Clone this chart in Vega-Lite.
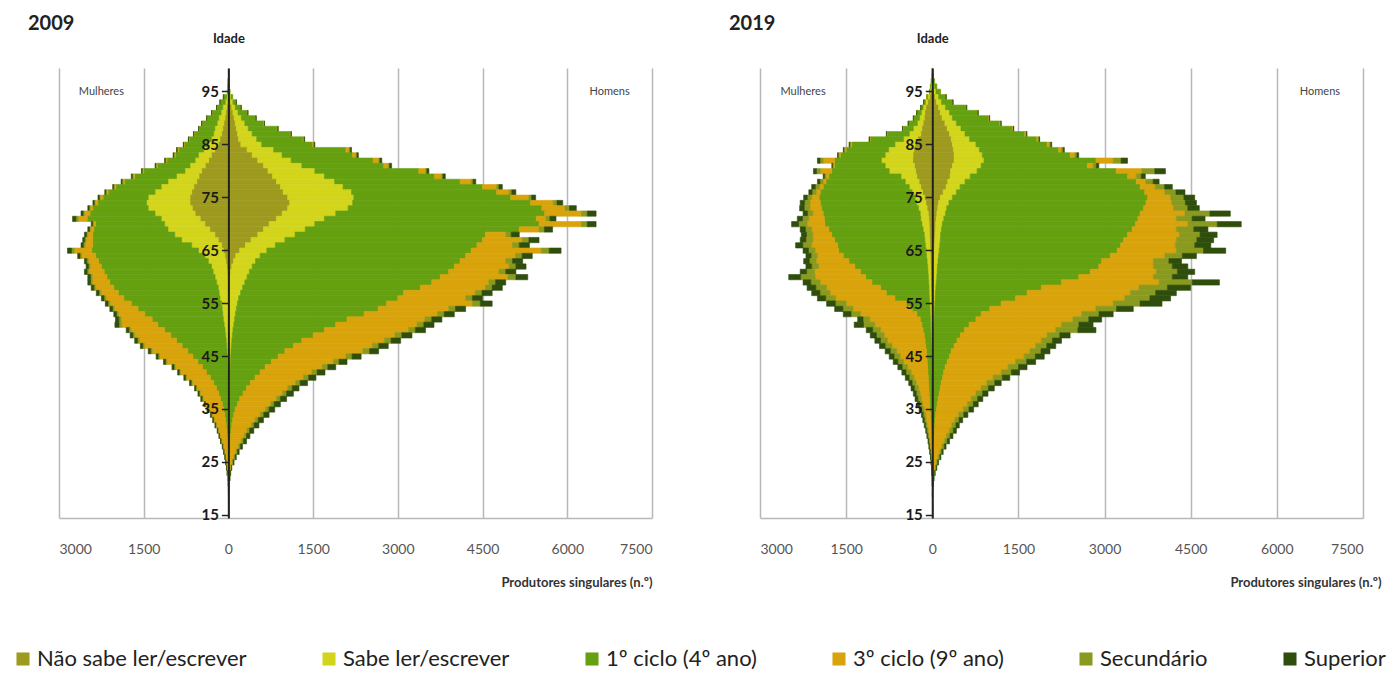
{
"$schema":"https://vega.github.io/schema/vega-lite/v6.json",
"background":"white",
"padding":{"left":12,"top":14,"right":5,"bottom":5},
"bounds":"flush",
"spacing":108,
"config":{"font":"Lato","view":{"stroke":null}},
"datasets":{
"d09":[
{"g":"H","a":97,"1":3,"2":2,"3":3,"4":0,"5":0,"6":0},
{"g":"H","a":96,"1":5,"2":5,"3":5,"4":0,"5":0,"6":0},
{"g":"H","a":95,"1":10,"2":10,"3":10,"4":0,"5":0,"6":0},
{"g":"H","a":94,"1":25,"2":20,"3":32,"4":0,"5":0,"6":0},
{"g":"H","a":93,"1":40,"2":40,"3":56,"4":2,"5":1,"6":1},
{"g":"H","a":92,"1":60,"2":60,"3":100,"4":3,"5":1,"6":1},
{"g":"H","a":91,"1":80,"2":90,"3":165,"4":6,"5":2,"6":2},
{"g":"H","a":90,"1":100,"2":130,"3":250,"4":6,"5":2,"6":2},
{"g":"H","a":89,"1":120,"2":170,"3":335,"4":9,"5":3,"6":3},
{"g":"H","a":88,"1":140,"2":210,"3":510,"4":12,"5":4,"6":4},
{"g":"H","a":87,"1":160,"2":260,"3":670,"4":15,"5":4,"6":6},
{"g":"H","a":86,"1":180,"2":320,"3":820,"4":15,"5":6,"6":9},
{"g":"H","a":85,"1":220,"2":370,"3":900,"4":20,"5":8,"6":12},
{"g":"H","a":84,"1":330,"2":470,"3":1280,"4":60,"5":16,"6":24},
{"g":"H","a":83,"1":420,"2":530,"3":1250,"4":60,"5":16,"6":24},
{"g":"H","a":82,"1":520,"2":590,"3":1450,"4":100,"5":22,"6":34},
{"g":"H","a":81,"1":620,"2":680,"3":1450,"4":80,"5":24,"6":36},
{"g":"H","a":80,"1":700,"2":830,"3":1840,"4":120,"5":24,"6":36},
{"g":"H","a":79,"1":780,"2":920,"3":1950,"4":120,"5":28,"6":42},
{"g":"H","a":78,"1":850,"2":1030,"3":2220,"4":200,"5":32,"6":48},
{"g":"H","a":77,"1":920,"2":1110,"3":2470,"4":250,"5":40,"6":60},
{"g":"H","a":76,"1":970,"2":1210,"3":2570,"4":220,"5":48,"6":72},
{"g":"H","a":75,"1":1050,"2":1170,"3":2780,"4":320,"5":48,"6":72},
{"g":"H","a":74,"1":1085,"2":1115,"3":3150,"4":400,"5":68,"6":102},
{"g":"H","a":73,"1":1050,"2":1070,"3":3430,"4":410,"5":80,"6":120},
{"g":"H","a":72,"1":950,"2":950,"3":3700,"4":650,"5":104,"6":156},
{"g":"H","a":71,"1":850,"2":850,"3":3750,"4":170,"5":72,"6":108},
{"g":"H","a":70,"1":720,"2":810,"3":3970,"4":750,"5":104,"6":156},
{"g":"H","a":69,"1":620,"2":740,"3":3790,"4":350,"5":96,"6":144},
{"g":"H","a":68,"1":520,"2":660,"3":3370,"4":360,"5":96,"6":144},
{"g":"H","a":67,"1":400,"2":600,"3":3500,"4":700,"5":120,"6":180},
{"g":"H","a":66,"1":300,"2":530,"3":3570,"4":630,"5":120,"6":180},
{"g":"H","a":65,"1":200,"2":480,"3":3620,"4":1240,"5":140,"6":210},
{"g":"H","a":64,"1":130,"2":430,"3":3640,"4":880,"5":120,"6":180},
{"g":"H","a":63,"1":90,"2":390,"3":3620,"4":810,"5":120,"6":180},
{"g":"H","a":62,"1":60,"2":360,"3":3580,"4":970,"5":120,"6":180},
{"g":"H","a":61,"1":40,"2":330,"3":3530,"4":890,"5":120,"6":180},
{"g":"H","a":60,"1":30,"2":300,"3":3420,"4":1200,"5":140,"6":210},
{"g":"H","a":59,"1":25,"2":265,"3":3310,"4":1010,"5":120,"6":180},
{"g":"H","a":58,"1":20,"2":230,"3":3150,"4":1150,"5":120,"6":180},
{"g":"H","a":57,"1":18,"2":197,"3":2885,"4":1270,"5":120,"6":180},
{"g":"H","a":56,"1":15,"2":165,"3":2820,"4":1200,"5":120,"6":180},
{"g":"H","a":55,"1":14,"2":146,"3":2640,"4":1520,"5":140,"6":210},
{"g":"H","a":54,"1":12,"2":128,"3":2510,"4":1250,"5":120,"6":180},
{"g":"H","a":53,"1":10,"2":115,"3":2275,"4":1300,"5":120,"6":180},
{"g":"H","a":52,"1":10,"2":100,"3":1990,"4":1380,"5":120,"6":180},
{"g":"H","a":51,"1":8,"2":87,"3":1805,"4":1440,"5":120,"6":180},
{"g":"H","a":50,"1":8,"2":72,"3":1620,"4":1490,"5":120,"6":180},
{"g":"H","a":49,"1":7,"2":63,"3":1430,"4":1450,"5":120,"6":180},
{"g":"H","a":48,"1":6,"2":54,"3":1240,"4":1460,"5":120,"6":170},
{"g":"H","a":47,"1":6,"2":46,"3":1098,"4":1400,"5":110,"6":170},
{"g":"H","a":46,"1":5,"2":40,"3":955,"4":1380,"5":120,"6":160},
{"g":"H","a":45,"1":5,"2":35,"3":840,"4":1200,"5":110,"6":160},
{"g":"H","a":44,"1":4,"2":31,"3":725,"4":1100,"5":100,"6":140},
{"g":"H","a":43,"1":4,"2":26,"3":620,"4":1010,"5":100,"6":140},
{"g":"H","a":42,"1":4,"2":24,"3":532,"4":920,"5":90,"6":140},
{"g":"H","a":41,"1":3,"2":22,"3":445,"4":860,"5":90,"6":130},
{"g":"H","a":40,"1":3,"2":19,"3":368,"4":800,"5":80,"6":130},
{"g":"H","a":39,"1":3,"2":16,"3":301,"4":730,"5":80,"6":120},
{"g":"H","a":38,"1":3,"2":13,"3":244,"4":700,"5":70,"6":120},
{"g":"H","a":37,"1":2,"2":12,"3":186,"4":650,"5":70,"6":110},
{"g":"H","a":36,"1":2,"2":10,"3":148,"4":590,"5":60,"6":110},
{"g":"H","a":35,"1":2,"2":8,"3":110,"4":540,"5":60,"6":100},
{"g":"H","a":34,"1":2,"2":7,"3":86,"4":470,"5":60,"6":95},
{"g":"H","a":33,"1":2,"2":6,"3":67,"4":400,"5":55,"6":90},
{"g":"H","a":32,"1":1,"2":6,"3":53,"4":345,"5":50,"6":85},
{"g":"H","a":31,"1":1,"2":5,"3":44,"4":280,"5":45,"6":75},
{"g":"H","a":30,"1":1,"2":4,"3":35,"4":240,"5":40,"6":60},
{"g":"H","a":29,"1":1,"2":3,"3":26,"4":200,"5":35,"6":55},
{"g":"H","a":28,"1":1,"2":2,"3":22,"4":155,"5":30,"6":40},
{"g":"H","a":27,"1":1,"2":2,"3":17,"4":115,"5":25,"6":30},
{"g":"H","a":26,"1":0,"2":2,"3":13,"4":85,"5":20,"6":20},
{"g":"H","a":25,"1":0,"2":2,"3":8,"4":60,"5":15,"6":15},
{"g":"H","a":24,"1":0,"2":1,"3":5,"4":40,"5":8,"6":6},
{"g":"H","a":23,"1":0,"2":1,"3":3,"4":28,"5":5,"6":3},
{"g":"H","a":22,"1":0,"2":1,"3":2,"4":18,"5":3,"6":1},
{"g":"H","a":21,"1":0,"2":0,"3":2,"4":11,"5":2,"6":0},
{"g":"H","a":20,"1":0,"2":0,"3":1,"4":6,"5":1,"6":0},
{"g":"H","a":19,"1":0,"2":0,"3":1,"4":4,"5":0,"6":0},
{"g":"H","a":18,"1":0,"2":0,"3":0,"4":3,"5":0,"6":0},
{"g":"H","a":17,"1":0,"2":0,"3":0,"4":1,"5":0,"6":0},
{"g":"M","a":97,"1":2,"2":2,"3":1,"4":0,"5":0,"6":0},
{"g":"M","a":96,"1":3,"2":3,"3":4,"4":0,"5":0,"6":0},
{"g":"M","a":95,"1":8,"2":7,"3":5,"4":0,"5":0,"6":0},
{"g":"M","a":94,"1":10,"2":20,"3":58,"4":1,"5":0,"6":1},
{"g":"M","a":93,"1":20,"2":35,"3":91,"4":2,"5":1,"6":1},
{"g":"M","a":92,"1":30,"2":70,"3":104,"4":3,"5":1,"6":2},
{"g":"M","a":91,"1":45,"2":85,"3":162,"4":4,"5":2,"6":2},
{"g":"M","a":90,"1":60,"2":110,"3":205,"4":5,"5":2,"6":3},
{"g":"M","a":89,"1":80,"2":120,"3":255,"4":10,"5":4,"6":6},
{"g":"M","a":88,"1":100,"2":140,"3":270,"4":10,"5":4,"6":6},
{"g":"M","a":87,"1":120,"2":140,"3":340,"4":10,"5":4,"6":6},
{"g":"M","a":86,"1":150,"2":150,"3":390,"4":10,"5":4,"6":6},
{"g":"M","a":85,"1":180,"2":175,"3":425,"4":10,"5":4,"6":6},
{"g":"M","a":84,"1":240,"2":200,"3":440,"4":20,"5":8,"6":12},
{"g":"M","a":83,"1":300,"2":230,"3":410,"4":20,"5":8,"6":12},
{"g":"M","a":82,"1":350,"2":240,"3":500,"4":20,"5":8,"6":12},
{"g":"M","a":81,"1":410,"2":270,"3":580,"4":20,"5":8,"6":12},
{"g":"M","a":80,"1":475,"2":295,"3":730,"4":20,"5":8,"6":12},
{"g":"M","a":79,"1":520,"2":400,"3":740,"4":30,"5":12,"6":18},
{"g":"M","a":78,"1":560,"2":510,"3":770,"4":30,"5":12,"6":18},
{"g":"M","a":77,"1":610,"2":580,"3":800,"4":30,"5":12,"6":18},
{"g":"M","a":76,"1":650,"2":650,"3":830,"4":30,"5":12,"6":18},
{"g":"M","a":75,"1":680,"2":740,"3":800,"4":50,"5":16,"6":24},
{"g":"M","a":74,"1":680,"2":770,"3":860,"4":50,"5":16,"6":24},
{"g":"M","a":73,"1":640,"2":780,"3":980,"4":50,"5":16,"6":24},
{"g":"M","a":72,"1":590,"2":710,"3":1150,"4":100,"5":24,"6":36},
{"g":"M","a":71,"1":500,"2":690,"3":1310,"4":160,"5":40,"6":60},
{"g":"M","a":70,"1":415,"2":715,"3":1220,"4":40,"5":16,"6":24},
{"g":"M","a":69,"1":330,"2":740,"3":1310,"4":60,"5":20,"6":30},
{"g":"M","a":68,"1":240,"2":710,"3":1450,"4":90,"5":24,"6":36},
{"g":"M","a":67,"1":180,"2":650,"3":1570,"4":120,"5":24,"6":36},
{"g":"M","a":66,"1":120,"2":530,"3":1750,"4":140,"5":28,"6":42},
{"g":"M","a":65,"1":90,"2":440,"3":1890,"4":310,"5":48,"6":72},
{"g":"M","a":64,"1":60,"2":355,"3":1935,"4":250,"5":28,"6":42},
{"g":"M","a":63,"1":45,"2":310,"3":1945,"4":180,"5":28,"6":42},
{"g":"M","a":62,"1":30,"2":270,"3":1950,"4":200,"5":28,"6":42},
{"g":"M","a":61,"1":22,"2":248,"3":1930,"4":270,"5":32,"6":48},
{"g":"M","a":60,"1":15,"2":222,"3":1913,"4":260,"5":32,"6":48},
{"g":"M","a":59,"1":12,"2":198,"3":1890,"4":310,"5":32,"6":48},
{"g":"M","a":58,"1":10,"2":170,"3":1850,"4":320,"5":32,"6":48},
{"g":"M","a":57,"1":9,"2":156,"3":1785,"4":310,"5":32,"6":48},
{"g":"M","a":56,"1":8,"2":142,"3":1700,"4":320,"5":32,"6":48},
{"g":"M","a":55,"1":7,"2":113,"3":1600,"4":380,"5":32,"6":48},
{"g":"M","a":54,"1":6,"2":104,"3":1490,"4":420,"5":32,"6":48},
{"g":"M","a":53,"1":5,"2":95,"3":1380,"4":470,"5":32,"6":48},
{"g":"M","a":52,"1":5,"2":85,"3":1260,"4":550,"5":40,"6":60},
{"g":"M","a":51,"1":4,"2":71,"3":1175,"4":640,"5":48,"6":72},
{"g":"M","a":50,"1":4,"2":56,"3":1070,"4":600,"5":32,"6":48},
{"g":"M","a":49,"1":3,"2":47,"3":970,"4":640,"5":32,"6":48},
{"g":"M","a":48,"1":3,"2":37,"3":880,"4":660,"5":32,"6":48},
{"g":"M","a":47,"1":3,"2":29,"3":788,"4":670,"5":28,"6":42},
{"g":"M","a":46,"1":2,"2":23,"3":695,"4":630,"5":28,"6":42},
{"g":"M","a":45,"1":2,"2":18,"3":610,"4":590,"5":24,"6":36},
{"g":"M","a":44,"1":2,"2":13,"3":525,"4":550,"5":24,"6":36},
{"g":"M","a":43,"1":1,"2":11,"3":448,"4":480,"5":24,"6":36},
{"g":"M","a":42,"1":1,"2":9,"3":380,"4":460,"5":20,"6":30},
{"g":"M","a":41,"1":1,"2":6,"3":313,"4":420,"5":20,"6":30},
{"g":"M","a":40,"1":1,"2":4,"3":255,"4":380,"5":20,"6":30},
{"g":"M","a":39,"1":1,"2":3,"3":206,"4":350,"5":16,"6":24},
{"g":"M","a":38,"1":1,"2":2,"3":167,"4":330,"5":16,"6":24},
{"g":"M","a":37,"1":1,"2":2,"3":137,"4":310,"5":16,"6":24},
{"g":"M","a":36,"1":0,"2":2,"3":108,"4":290,"5":12,"6":18},
{"g":"M","a":35,"1":0,"2":2,"3":83,"4":265,"5":12,"6":18},
{"g":"M","a":34,"1":0,"2":1,"3":64,"4":225,"5":12,"6":18},
{"g":"M","a":33,"1":0,"2":1,"3":49,"4":205,"5":10,"6":15},
{"g":"M","a":32,"1":0,"2":1,"3":39,"4":175,"5":10,"6":15},
{"g":"M","a":31,"1":0,"2":1,"3":29,"4":150,"5":8,"6":12},
{"g":"M","a":30,"1":0,"2":0,"3":22,"4":128,"5":8,"6":12},
{"g":"M","a":29,"1":0,"2":0,"3":16,"4":109,"5":6,"6":9},
{"g":"M","a":28,"1":0,"2":0,"3":12,"4":83,"5":6,"6":9},
{"g":"M","a":27,"1":0,"2":0,"3":8,"4":67,"5":4,"6":6},
{"g":"M","a":26,"1":0,"2":0,"3":5,"4":50,"5":4,"6":6},
{"g":"M","a":25,"1":0,"2":0,"3":3,"4":39,"5":4,"6":4},
{"g":"M","a":24,"1":0,"2":0,"3":2,"4":28,"5":3,"6":2},
{"g":"M","a":23,"1":0,"2":0,"3":1,"4":18,"5":2,"6":1},
{"g":"M","a":22,"1":0,"2":0,"3":1,"4":12,"5":1,"6":0},
{"g":"M","a":21,"1":0,"2":0,"3":0,"4":7,"5":1,"6":0},
{"g":"M","a":20,"1":0,"2":0,"3":0,"4":4,"5":0,"6":0},
{"g":"M","a":19,"1":0,"2":0,"3":0,"4":2,"5":0,"6":0}
],
"d19":[
{"g":"H","a":99,"1":3,"2":1,"3":1,"4":0,"5":0,"6":0},
{"g":"H","a":98,"1":6,"2":4,"3":5,"4":0,"5":0,"6":0},
{"g":"H","a":97,"1":12,"2":10,"3":18,"4":0,"5":0,"6":0},
{"g":"H","a":96,"1":20,"2":20,"3":40,"4":0,"5":0,"6":0},
{"g":"H","a":95,"1":30,"2":35,"3":73,"4":1,"5":1,"6":0},
{"g":"H","a":94,"1":50,"2":60,"3":126,"4":2,"5":1,"6":1},
{"g":"H","a":93,"1":70,"2":90,"3":194,"4":3,"5":2,"6":1},
{"g":"H","a":92,"1":110,"2":120,"3":360,"4":5,"5":3,"6":2},
{"g":"H","a":91,"1":140,"2":160,"3":485,"4":7,"5":4,"6":4},
{"g":"H","a":90,"1":170,"2":180,"3":630,"4":10,"5":5,"6":5},
{"g":"H","a":89,"1":220,"2":200,"3":755,"4":13,"5":7,"6":5},
{"g":"H","a":88,"1":260,"2":240,"3":890,"4":15,"5":8,"6":7},
{"g":"H","a":87,"1":300,"2":270,"3":1040,"4":20,"5":11,"6":9},
{"g":"H","a":86,"1":330,"2":320,"3":1170,"4":25,"5":14,"6":11},
{"g":"H","a":85,"1":350,"2":410,"3":1240,"4":40,"5":22,"6":18},
{"g":"H","a":84,"1":370,"2":450,"3":1380,"4":50,"5":28,"6":22},
{"g":"H","a":83,"1":380,"2":490,"3":1530,"4":80,"5":38,"6":32},
{"g":"H","a":82,"1":380,"2":520,"3":1950,"4":300,"5":138,"6":112},
{"g":"H","a":81,"1":350,"2":500,"3":1850,"4":100,"5":55,"6":45},
{"g":"H","a":80,"1":320,"2":460,"3":2420,"4":450,"5":225,"6":185},
{"g":"H","a":79,"1":310,"2":350,"3":2740,"4":150,"5":88,"6":72},
{"g":"H","a":78,"1":270,"2":300,"3":2980,"4":170,"5":126,"6":104},
{"g":"H","a":77,"1":240,"2":245,"3":3135,"4":260,"5":165,"6":135},
{"g":"H","a":76,"1":190,"2":230,"3":3280,"4":350,"5":193,"6":157},
{"g":"H","a":75,"1":140,"2":210,"3":3400,"4":400,"5":231,"6":189},
{"g":"H","a":74,"1":110,"2":180,"3":3430,"4":450,"5":237,"6":193},
{"g":"H","a":73,"1":95,"2":155,"3":3430,"4":520,"5":248,"6":202},
{"g":"H","a":72,"1":80,"2":150,"3":3390,"4":780,"5":435,"6":355},
{"g":"H","a":71,"1":70,"2":130,"3":3380,"4":670,"5":275,"6":225},
{"g":"H","a":70,"1":60,"2":115,"3":3365,"4":910,"5":512,"6":418},
{"g":"H","a":69,"1":55,"2":105,"3":3320,"4":770,"5":303,"6":247},
{"g":"H","a":68,"1":50,"2":95,"3":3255,"4":900,"5":363,"6":297},
{"g":"H","a":67,"1":45,"2":95,"3":3190,"4":920,"5":358,"6":292},
{"g":"H","a":66,"1":40,"2":90,"3":3150,"4":950,"5":341,"6":279},
{"g":"H","a":65,"1":35,"2":85,"3":3100,"4":1030,"5":473,"6":387},
{"g":"H","a":64,"1":30,"2":80,"3":2990,"4":950,"5":303,"6":247},
{"g":"H","a":63,"1":28,"2":72,"3":2850,"4":900,"5":270,"6":220},
{"g":"H","a":62,"1":25,"2":65,"3":2810,"4":950,"5":330,"6":270},
{"g":"H","a":61,"1":22,"2":63,"3":2665,"4":1150,"5":369,"6":301},
{"g":"H","a":60,"1":20,"2":58,"3":2472,"4":1300,"5":330,"6":270},
{"g":"H","a":59,"1":18,"2":52,"3":2180,"4":1700,"5":578,"6":472},
{"g":"H","a":58,"1":16,"2":46,"3":1838,"4":1700,"5":495,"6":405},
{"g":"H","a":57,"1":14,"2":41,"3":1595,"4":1800,"5":440,"6":360},
{"g":"H","a":56,"1":12,"2":38,"3":1400,"4":1900,"5":440,"6":360},
{"g":"H","a":55,"1":11,"2":34,"3":1155,"4":1950,"5":468,"6":382},
{"g":"H","a":54,"1":10,"2":30,"3":960,"4":1850,"5":358,"6":292},
{"g":"H","a":53,"1":9,"2":27,"3":814,"4":1750,"5":303,"6":247},
{"g":"H","a":52,"1":8,"2":24,"3":728,"4":1690,"5":275,"6":225},
{"g":"H","a":51,"1":7,"2":21,"3":612,"4":1610,"5":303,"6":247},
{"g":"H","a":50,"1":6,"2":19,"3":535,"4":1590,"5":385,"6":315},
{"g":"H","a":49,"1":5,"2":17,"3":468,"4":1510,"5":220,"6":180},
{"g":"H","a":48,"1":5,"2":14,"3":411,"4":1470,"5":193,"6":157},
{"g":"H","a":47,"1":4,"2":12,"3":364,"4":1420,"5":193,"6":157},
{"g":"H","a":46,"1":4,"2":10,"3":316,"4":1370,"5":193,"6":157},
{"g":"H","a":45,"1":3,"2":9,"3":288,"4":1300,"5":193,"6":157},
{"g":"H","a":44,"1":3,"2":7,"3":250,"4":1190,"5":193,"6":157},
{"g":"H","a":43,"1":3,"2":6,"3":216,"4":1095,"5":182,"6":148},
{"g":"H","a":42,"1":2,"2":6,"3":192,"4":1000,"5":176,"6":144},
{"g":"H","a":41,"1":2,"2":5,"3":173,"4":880,"5":160,"6":130},
{"g":"H","a":40,"1":2,"2":4,"3":149,"4":795,"5":138,"6":112},
{"g":"H","a":39,"1":2,"2":3,"3":130,"4":715,"5":127,"6":103},
{"g":"H","a":38,"1":1,"2":3,"3":116,"4":640,"5":116,"6":94},
{"g":"H","a":37,"1":1,"2":3,"3":96,"4":580,"5":110,"6":90},
{"g":"H","a":36,"1":1,"2":2,"3":82,"4":525,"5":104,"6":86},
{"g":"H","a":35,"1":1,"2":2,"3":72,"4":465,"5":99,"6":81},
{"g":"H","a":34,"1":1,"2":1,"3":58,"4":400,"5":88,"6":72},
{"g":"H","a":33,"1":1,"2":1,"3":48,"4":340,"5":77,"6":63},
{"g":"H","a":32,"1":1,"2":1,"3":43,"4":295,"5":72,"6":58},
{"g":"H","a":31,"1":1,"2":1,"3":38,"4":260,"5":66,"6":54},
{"g":"H","a":30,"1":0,"2":1,"3":34,"4":215,"5":60,"6":50},
{"g":"H","a":29,"1":0,"2":1,"3":27,"4":182,"5":50,"6":40},
{"g":"H","a":28,"1":0,"2":1,"3":21,"4":148,"5":39,"6":31},
{"g":"H","a":27,"1":0,"2":1,"3":15,"4":119,"5":30,"6":25},
{"g":"H","a":26,"1":0,"2":1,"3":11,"4":93,"5":25,"6":20},
{"g":"H","a":25,"1":0,"2":0,"3":8,"4":67,"5":19,"6":16},
{"g":"H","a":24,"1":0,"2":0,"3":5,"4":50,"5":14,"6":11},
{"g":"H","a":23,"1":0,"2":0,"3":3,"4":32,"5":8,"6":7},
{"g":"H","a":22,"1":0,"2":0,"3":2,"4":18,"5":6,"6":4},
{"g":"H","a":21,"1":0,"2":0,"3":1,"4":9,"5":3,"6":2},
{"g":"H","a":20,"1":0,"2":0,"3":0,"4":4,"5":1,"6":1},
{"g":"H","a":19,"1":0,"2":0,"3":0,"4":1,"5":1,"6":0},
{"g":"M","a":99,"1":2,"2":0,"3":0,"4":0,"5":0,"6":0},
{"g":"M","a":98,"1":2,"2":2,"3":1,"4":0,"5":0,"6":0},
{"g":"M","a":97,"1":8,"2":7,"3":5,"4":0,"5":0,"6":0},
{"g":"M","a":96,"1":15,"2":13,"3":7,"4":0,"5":0,"6":0},
{"g":"M","a":95,"1":25,"2":15,"3":10,"4":0,"5":0,"6":0},
{"g":"M","a":94,"1":50,"2":30,"3":18,"4":1,"5":1,"6":0},
{"g":"M","a":93,"1":80,"2":40,"3":27,"4":1,"5":1,"6":1},
{"g":"M","a":92,"1":110,"2":50,"3":36,"4":2,"5":1,"6":1},
{"g":"M","a":91,"1":130,"2":60,"3":75,"4":2,"5":2,"6":1},
{"g":"M","a":90,"1":140,"2":80,"3":104,"4":3,"5":2,"6":1},
{"g":"M","a":89,"1":160,"2":100,"3":152,"4":4,"5":2,"6":2},
{"g":"M","a":88,"1":180,"2":150,"3":178,"4":6,"5":3,"6":3},
{"g":"M","a":87,"1":200,"2":200,"3":385,"4":7,"5":4,"6":4},
{"g":"M","a":86,"1":250,"2":250,"3":580,"4":10,"5":6,"6":4},
{"g":"M","a":85,"1":300,"2":350,"3":750,"4":25,"5":14,"6":11},
{"g":"M","a":84,"1":320,"2":440,"3":740,"4":25,"5":14,"6":11},
{"g":"M","a":83,"1":335,"2":485,"3":780,"4":25,"5":14,"6":11},
{"g":"M","a":82,"1":340,"2":545,"3":815,"4":200,"5":55,"6":45},
{"g":"M","a":81,"1":310,"2":510,"3":880,"4":20,"5":17,"6":13},
{"g":"M","a":80,"1":290,"2":460,"3":1000,"4":200,"5":66,"6":54},
{"g":"M","a":79,"1":270,"2":275,"3":1255,"4":50,"5":28,"6":22},
{"g":"M","a":78,"1":230,"2":240,"3":1380,"4":50,"5":55,"6":45},
{"g":"M","a":77,"1":200,"2":200,"3":1500,"4":60,"5":77,"6":63},
{"g":"M","a":76,"1":170,"2":180,"3":1600,"4":70,"5":72,"6":58},
{"g":"M","a":75,"1":135,"2":165,"3":1670,"4":130,"5":77,"6":63},
{"g":"M","a":74,"1":110,"2":160,"3":1680,"4":180,"5":94,"6":76},
{"g":"M","a":73,"1":90,"2":150,"3":1690,"4":200,"5":99,"6":81},
{"g":"M","a":72,"1":70,"2":140,"3":1690,"4":180,"5":94,"6":76},
{"g":"M","a":71,"1":60,"2":140,"3":1680,"4":270,"5":110,"6":90},
{"g":"M","a":70,"1":55,"2":125,"3":1690,"4":310,"5":149,"6":121},
{"g":"M","a":69,"1":50,"2":110,"3":1640,"4":300,"5":110,"6":90},
{"g":"M","a":68,"1":48,"2":92,"3":1610,"4":330,"5":110,"6":90},
{"g":"M","a":67,"1":45,"2":85,"3":1570,"4":380,"5":121,"6":99},
{"g":"M","a":66,"1":40,"2":80,"3":1530,"4":450,"5":154,"6":126},
{"g":"M","a":65,"1":38,"2":72,"3":1520,"4":410,"5":116,"6":94},
{"g":"M","a":64,"1":35,"2":65,"3":1450,"4":450,"5":110,"6":90},
{"g":"M","a":63,"1":32,"2":58,"3":1360,"4":570,"5":121,"6":99},
{"g":"M","a":62,"1":30,"2":50,"3":1270,"4":630,"5":121,"6":99},
{"g":"M","a":61,"1":28,"2":47,"3":1175,"4":800,"5":138,"6":112},
{"g":"M","a":60,"1":26,"2":42,"3":1092,"4":880,"5":253,"6":207},
{"g":"M","a":59,"1":24,"2":38,"3":988,"4":900,"5":165,"6":135},
{"g":"M","a":58,"1":22,"2":36,"3":842,"4":940,"5":187,"6":153},
{"g":"M","a":57,"1":20,"2":35,"3":745,"4":980,"5":176,"6":144},
{"g":"M","a":56,"1":18,"2":32,"3":600,"4":1030,"5":176,"6":144},
{"g":"M","a":55,"1":16,"2":29,"3":405,"4":1050,"5":187,"6":153},
{"g":"M","a":54,"1":14,"2":26,"3":310,"4":1030,"5":176,"6":144},
{"g":"M","a":53,"1":12,"2":24,"3":234,"4":980,"5":165,"6":135},
{"g":"M","a":52,"1":11,"2":21,"3":178,"4":880,"5":116,"6":94},
{"g":"M","a":51,"1":10,"2":18,"3":152,"4":820,"5":198,"6":162},
{"g":"M","a":50,"1":9,"2":16,"3":135,"4":740,"5":138,"6":112},
{"g":"M","a":49,"1":8,"2":14,"3":118,"4":700,"5":132,"6":108},
{"g":"M","a":48,"1":7,"2":13,"3":105,"4":655,"5":121,"6":99},
{"g":"M","a":47,"1":6,"2":12,"3":97,"4":585,"5":121,"6":99},
{"g":"M","a":46,"1":5,"2":10,"3":85,"4":520,"5":110,"6":90},
{"g":"M","a":45,"1":5,"2":8,"3":82,"4":465,"5":105,"6":85},
{"g":"M","a":44,"1":4,"2":7,"3":77,"4":412,"5":99,"6":81},
{"g":"M","a":43,"1":4,"2":6,"3":70,"4":350,"5":94,"6":76},
{"g":"M","a":42,"1":3,"2":6,"3":66,"4":295,"5":88,"6":72},
{"g":"M","a":41,"1":3,"2":5,"3":62,"4":250,"5":83,"6":67},
{"g":"M","a":40,"1":3,"2":4,"3":59,"4":214,"5":72,"6":58},
{"g":"M","a":39,"1":2,"2":4,"3":54,"4":180,"5":72,"6":58},
{"g":"M","a":38,"1":2,"2":3,"3":50,"4":160,"5":63,"6":52},
{"g":"M","a":37,"1":2,"2":3,"3":45,"4":140,"5":61,"6":49},
{"g":"M","a":36,"1":2,"2":2,"3":41,"4":125,"5":50,"6":40},
{"g":"M","a":35,"1":1,"2":3,"3":36,"4":105,"5":47,"6":38},
{"g":"M","a":34,"1":1,"2":2,"3":32,"4":85,"5":39,"6":31},
{"g":"M","a":33,"1":1,"2":2,"3":27,"4":75,"5":33,"6":27},
{"g":"M","a":32,"1":1,"2":1,"3":23,"4":63,"5":29,"6":23},
{"g":"M","a":31,"1":1,"2":1,"3":18,"4":52,"5":24,"6":19},
{"g":"M","a":30,"1":0,"2":1,"3":15,"4":44,"5":19,"6":16},
{"g":"M","a":29,"1":0,"2":1,"3":11,"4":35,"5":15,"6":13},
{"g":"M","a":28,"1":0,"2":1,"3":9,"4":28,"5":12,"6":10},
{"g":"M","a":27,"1":0,"2":1,"3":7,"4":20,"5":9,"6":8},
{"g":"M","a":26,"1":0,"2":1,"3":4,"4":15,"5":7,"6":5},
{"g":"M","a":25,"1":0,"2":0,"3":3,"4":11,"5":4,"6":4},
{"g":"M","a":24,"1":0,"2":0,"3":2,"4":7,"5":3,"6":2},
{"g":"M","a":23,"1":0,"2":0,"3":1,"4":4,"5":2,"6":1},
{"g":"M","a":22,"1":0,"2":0,"3":0,"4":3,"5":1,"6":0},
{"g":"M","a":21,"1":0,"2":0,"3":0,"4":1,"5":1,"6":0}
]
},
"resolve":{"scale":{"x":"independent","y":"independent","color":"shared","stroke":"shared"}},
"hconcat":[
{
"width":593,"height":450,
"title":{"text":"2009","anchor":"start","dx":-31,"offset":-2,"fontSize":20,"fontWeight":"bold","color":"#222"},
"layer":[
{
"data":{"name":"d09"},
"transform":[
{"fold":["1","2","3","4","5","6"],"as":["k","v"]},
{"filter":"datum.v > 0"},
{"calculate":"datum.g == 'M' ? -datum.v : datum.v","as":"xv"}
],
"mark":{"type":"bar","strokeWidth":0.6},
"encoding":{
"y":{"field":"a","type":"ordinal","scale":{"domain":[99,98,97,96,95,94,93,92,91,90,89,88,87,86,85,84,83,82,81,80,79,78,77,76,75,74,73,72,71,70,69,68,67,66,65,64,63,62,61,60,59,58,57,56,55,54,53,52,51,50,49,48,47,46,45,44,43,42,41,40,39,38,37,36,35,34,33,32,31,30,29,28,27,26,25,24,23,22,21,20,19,18,17,16,15],"paddingInner":0,"paddingOuter":0},
"axis":{"values":[95,85,75,65,55,45,35,25,15],"offset":-169.4,"zindex":1,"title":"Idade","titleAngle":0,"titleX":0,"titleY":-30,"titleAlign":"center","titleBaseline":"middle","titleFontSize":13,"titleFontWeight":"bold","titleColor":"#222","labelFontSize":15,"labelFontWeight":"bold","labelColor":"#1a1a1a","labelPadding":3,"tickSize":7,"tickWidth":1.5,"tickColor":"#222","domainColor":"#222","domainWidth":2,"grid":false}},
"x":{"field":"xv","type":"quantitative","stack":"zero","scale":{"domain":[-3000,7500],"nice":false,"zero":false},
"axis":{"values":[-3000,-1500,0,1500,3000,4500,6000,7500],"labelExpr":"format(abs(datum.value),'d')","grid":true,"gridColor":"#b8b8b8","gridWidth":1.5,"ticks":false,"domainColor":"#b8b8b8","domainWidth":1.5,"labelFontSize":14,"labelColor":"#555","labelPadding":24,"title":"Produtores singulares (n.º)","titleAnchor":"end","titleFontSize":13,"titleFontWeight":"bold","titleColor":"#333","titlePadding":20}},
"order":{"field":"k","sort":"ascending"},
"color":{"field":"k","type":"nominal","scale":{"domain":["1","2","3","4","5","6"],"range":["#9d9a1f","#d2d51b","#65a011","#d9a30c","#8a9a1e","#2f4e0c"]},
"legend":{"orient":"none","legendX":-47,"legendY":580,"direction":"horizontal","columns":6,"title":null,"symbolType":"square","symbolSize":170,"symbolStrokeWidth":0,"labelFontSize":22,"labelLimit":500,"labelColor":"#222","labelFont":"Lato","columnPadding":71,"labelOffset":3,
"labelExpr":"datum.label == '1' ? 'Não sabe ler/escrever' : datum.label == '2' ? 'Sabe ler/escrever' : datum.label == '3' ? '1º ciclo (4º ano)' : datum.label == '4' ? '3º ciclo (9º ano)' : datum.label == '5' ? 'Secundário' : 'Superior'"}},
"stroke":{"field":"k","type":"nominal","scale":{"domain":["1","2","3","4","5","6"],"range":["#9d9a1f","#d2d51b","#65a011","#d9a30c","#8a9a1e","#2f4e0c"]},"legend":null}
}
},
{"data":{"values":[{}]},"mark":{"type":"text","fontSize":11,"color":"#444"},"encoding":{"x":{"datum":-2250,"type":"quantitative"},"y":{"datum":95,"type":"ordinal"},"text":{"value":"Mulheres"}}},
{"data":{"values":[{}]},"mark":{"type":"text","fontSize":11,"color":"#444"},"encoding":{"x":{"datum":6750,"type":"quantitative"},"y":{"datum":95,"type":"ordinal"},"text":{"value":"Homens"}}}
]
},
{
"width":603,"height":450,
"title":{"text":"2019","anchor":"start","dx":-31,"offset":-2,"fontSize":20,"fontWeight":"bold","color":"#222"},
"layer":[
{
"data":{"name":"d19"},
"transform":[
{"fold":["1","2","3","4","5","6"],"as":["k","v"]},
{"filter":"datum.v > 0"},
{"calculate":"datum.g == 'M' ? -datum.v : datum.v","as":"xv"}
],
"mark":{"type":"bar","strokeWidth":0.6},
"encoding":{
"y":{"field":"a","type":"ordinal","scale":{"domain":[99,98,97,96,95,94,93,92,91,90,89,88,87,86,85,84,83,82,81,80,79,78,77,76,75,74,73,72,71,70,69,68,67,66,65,64,63,62,61,60,59,58,57,56,55,54,53,52,51,50,49,48,47,46,45,44,43,42,41,40,39,38,37,36,35,34,33,32,31,30,29,28,27,26,25,24,23,22,21,20,19,18,17,16,15],"paddingInner":0,"paddingOuter":0},
"axis":{"values":[95,85,75,65,55,45,35,25,15],"offset":-172.3,"zindex":1,"title":"Idade","titleAngle":0,"titleX":0,"titleY":-30,"titleAlign":"center","titleBaseline":"middle","titleFontSize":13,"titleFontWeight":"bold","titleColor":"#222","labelFontSize":15,"labelFontWeight":"bold","labelColor":"#1a1a1a","labelPadding":3,"tickSize":7,"tickWidth":1.5,"tickColor":"#222","domainColor":"#222","domainWidth":2,"grid":false}},
"x":{"field":"xv","type":"quantitative","stack":"zero","scale":{"domain":[-3000,7500],"nice":false,"zero":false},
"axis":{"values":[-3000,-1500,0,1500,3000,4500,6000,7500],"labelExpr":"format(abs(datum.value),'d')","grid":true,"gridColor":"#b8b8b8","gridWidth":1.5,"ticks":false,"domainColor":"#b8b8b8","domainWidth":1.5,"labelFontSize":14,"labelColor":"#555","labelPadding":24,"title":"Produtores singulares (n.º)","titleAnchor":"end","titleX":621,"titleAlign":"right","titleFontSize":13,"titleFontWeight":"bold","titleColor":"#333","titlePadding":20}},
"order":{"field":"k","sort":"ascending"},
"color":{"field":"k","type":"nominal","scale":{"domain":["1","2","3","4","5","6"],"range":["#9d9a1f","#d2d51b","#65a011","#d9a30c","#8a9a1e","#2f4e0c"]},
"legend":{"orient":"none","legendX":-47,"legendY":580,"direction":"horizontal","columns":6,"title":null,"symbolType":"square","symbolSize":170,"symbolStrokeWidth":0,"labelFontSize":22,"labelLimit":500,"labelColor":"#222","labelFont":"Lato","columnPadding":71,"labelOffset":3,
"labelExpr":"datum.label == '1' ? 'Não sabe ler/escrever' : datum.label == '2' ? 'Sabe ler/escrever' : datum.label == '3' ? '1º ciclo (4º ano)' : datum.label == '4' ? '3º ciclo (9º ano)' : datum.label == '5' ? 'Secundário' : 'Superior'"}},
"stroke":{"field":"k","type":"nominal","scale":{"domain":["1","2","3","4","5","6"],"range":["#9d9a1f","#d2d51b","#65a011","#d9a30c","#8a9a1e","#2f4e0c"]},"legend":null}
}
},
{"data":{"values":[{}]},"mark":{"type":"text","fontSize":11,"color":"#444"},"encoding":{"x":{"datum":-2250,"type":"quantitative"},"y":{"datum":95,"type":"ordinal"},"text":{"value":"Mulheres"}}},
{"data":{"values":[{}]},"mark":{"type":"text","fontSize":11,"color":"#444"},"encoding":{"x":{"datum":6750,"type":"quantitative"},"y":{"datum":95,"type":"ordinal"},"text":{"value":"Homens"}}}
]
}
]
}
